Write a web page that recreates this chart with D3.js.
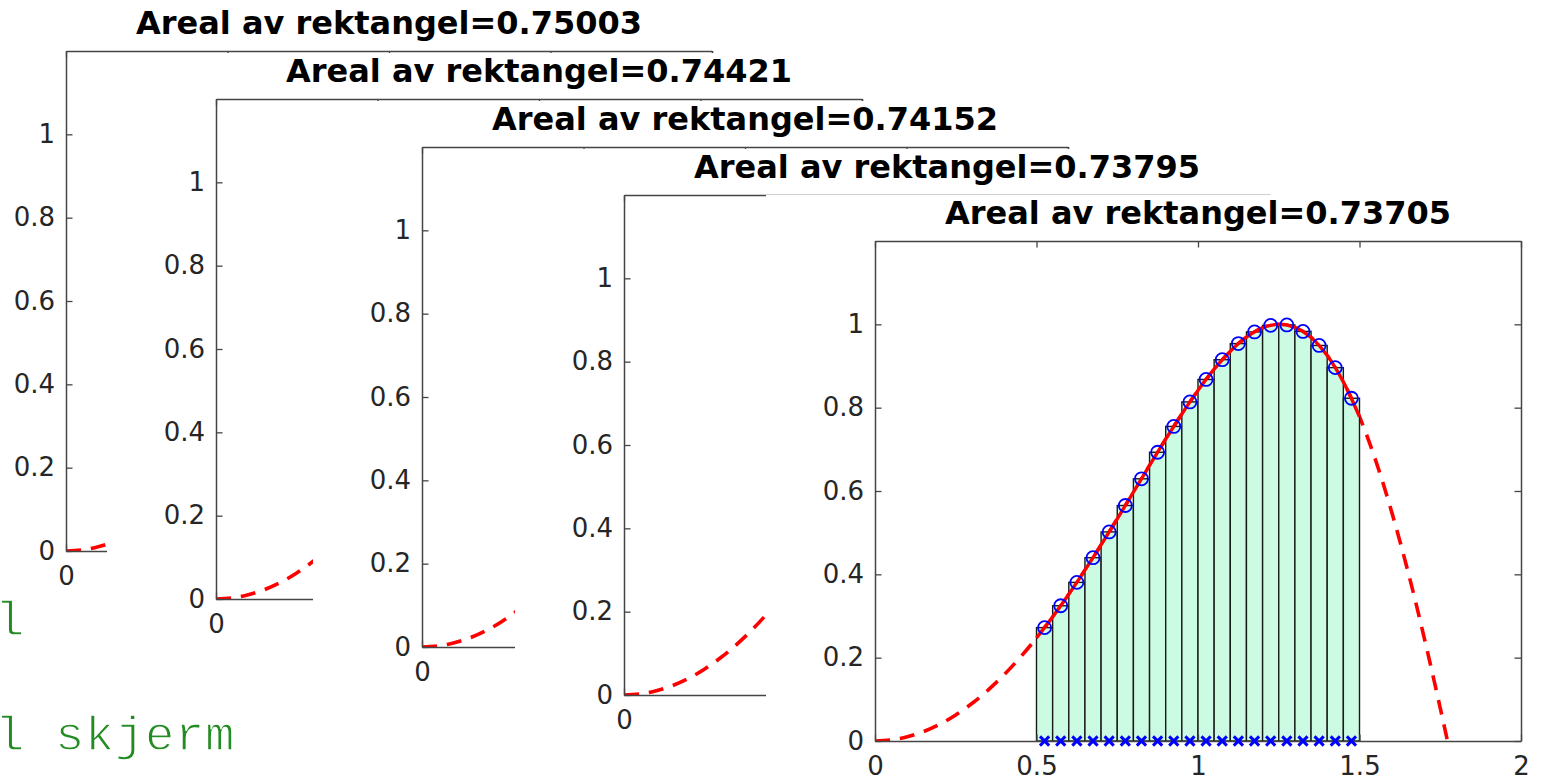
<!DOCTYPE html>
<html>
<head>
<meta charset="utf-8">
<script src="https://cdn.jsdelivr.net/npm/d3@7"></script>
<style>
  html, body { margin: 0; padding: 0; background: #fff; overflow: hidden; }
  svg { display: block; }
</style>
</head>
<body>
<svg id="chart" width="1544" height="778"></svg>
<script>
// Sampled curve y = sin(x^2) on [0, 1.8]
const curveX = [0, 0.05, 0.1, 0.15, 0.2, 0.25, 0.3, 0.35, 0.4, 0.45,
                0.5, 0.55, 0.6, 0.65, 0.7, 0.75, 0.8, 0.85, 0.9, 0.95,
                1.0, 1.05, 1.1, 1.15, 1.2, 1.25, 1.3, 1.35, 1.4, 1.45,
                1.5, 1.55, 1.6, 1.65, 1.7, 1.75, 1.8];
const curveY = [0, 0.0025, 0.0100, 0.0225, 0.0400, 0.0625, 0.0899, 0.1222, 0.1593, 0.2011,
                0.2474, 0.2979, 0.3523, 0.4101, 0.4706, 0.5333, 0.5972, 0.6613, 0.7243, 0.7849,
                0.8415, 0.8923, 0.9356, 0.9693, 0.9915, 1.0000, 0.9929, 0.9685, 0.9252, 0.8620,
                0.7781, 0.6736, 0.5487, 0.4069, 0.2489, 0.0790, -0.0982];

// Midpoint rule on [0.5, 1.5] with 20 rectangles
const rectWidth = 0.05;
const midX = [0.525, 0.575, 0.625, 0.675, 0.725, 0.775, 0.825, 0.875, 0.925, 0.975,
              1.025, 1.075, 1.125, 1.175, 1.225, 1.275, 1.325, 1.375, 1.425, 1.475];
const midY = [0.2721, 0.3246, 0.3807, 0.4400, 0.5018, 0.5652, 0.6293, 0.6930, 0.7550, 0.8138,
              0.8677, 0.9151, 0.9538, 0.9818, 0.9975, 0.9985, 0.9830, 0.9493, 0.8961, 0.8226];
const solidFrom = 0.5, solidTo = 1.5;

// Titles of the five stacked figure windows (back to front)
const areaValues = ["0.75003", "0.74421", "0.74152", "0.73795", "0.73705"];

// Axis ticks
const xTicks = [0, 0.5, 1, 1.5, 2];
const xTickLabels = ["0", "0.5", "1", "1.5", "2"];
const yTicks = [0, 0.2, 0.4, 0.6, 0.8, 1];
const yTickLabels = ["0", "0.2", "0.4", "0.6", "0.8", "1"];

// Editor text peeking out behind the windows
const editorLines = ["l", "l skjerm"];

const svg = d3.select("#chart");
const W = 646, H = 500;
const axesPos = [
  { left: 66,  top: 51 },
  { left: 216, top: 99 },
  { left: 422, top: 147 },
  { left: 624, top: 195 },
  { left: 875, top: 241 }
];

const points = curveX.map((x, i) => ({ x, y: curveY[i] }));
const bars = midX.map((x, i) => ({ x, y: midY[i] }));

// background editor text (thin white outline keeps the strokes light)
svg.append("g").selectAll("text")
  .data(editorLines)
  .join("text")
  .attr("x", -5)
  .attr("y", (d, i) => i === 0 ? 635 : 750)
  .attr("font-family", "'Courier New', Courier, 'Nimbus Mono PS', 'Nimbus Mono L', FreeMono, 'Liberation Mono', monospace")
  .attr("font-size", 49)
  .attr("letter-spacing", 0.6)
  .attr("fill", "#228b22")
  .attr("stroke", "#ffffff")
  .attr("stroke-width", 1.3)
  .text(d => d);

const TICK = 6.5;
const axisColor = "#454545";

axesPos.forEach((p, k) => {
  const front = k === axesPos.length - 1;
  const x = d3.scaleLinear().domain([0, 2]).range([p.left, p.left + W]);
  const y = d3.scaleLinear().domain([0, 1.2]).range([p.top + H, p.top]);

  const fig = svg.append("g");

  // figure window (covers the ones behind it)
  fig.append("rect")
    .attr("x", p.left - 109)
    .attr("y", p.top - 46)
    .attr("width", 2200)
    .attr("height", H + 46 + 45)
    .attr("fill", "#ffffff");

  const clipId = "clip" + k;
  fig.append("clipPath").attr("id", clipId)
    .append("rect")
    .attr("x", p.left).attr("y", p.top)
    .attr("width", W).attr("height", H);

  const plot = fig.append("g").attr("clip-path", `url(#${clipId})`);

  const line = d3.line()
    .x(d => x(d.x))
    .y(d => y(d.y))
    .curve(d3.curveCatmullRom.alpha(0.5));

  // dashed curve over the whole range
  plot.append("path")
    .datum(points)
    .attr("d", line)
    .attr("fill", "none")
    .attr("stroke", "#ff0000")
    .attr("stroke-width", 3.6)
    .attr("stroke-dasharray", "15,10");

  if (front) {
    // rectangles
    plot.append("g").selectAll("rect")
      .data(bars)
      .join("rect")
      .attr("x", d => x(d.x - rectWidth / 2))
      .attr("y", d => y(d.y))
      .attr("width", d => x(d.x + rectWidth / 2) - x(d.x - rectWidth / 2))
      .attr("height", d => y(0) - y(d.y))
      .attr("fill", "#ccfbe4")
      .attr("stroke", "#1a1a1a")
      .attr("stroke-width", 1.4);

    // solid curve on the integration interval
    plot.append("path")
      .datum(points.filter(d => d.x >= solidFrom - 1e-9 && d.x <= solidTo + 1e-9))
      .attr("d", line)
      .attr("fill", "none")
      .attr("stroke", "#ff0000")
      .attr("stroke-width", 3.4);
  }

  // box axes with inward ticks
  const styleAxis = g => {
    g.select(".domain").attr("stroke", axisColor).attr("stroke-width", 1.5);
    g.selectAll(".tick line").attr("stroke", axisColor).attr("stroke-width", 1.3);
    g.selectAll(".tick text")
      .attr("fill", "#262626")
      .attr("font-family", "'DejaVu Sans', sans-serif")
      .attr("font-size", 26);
  };

  fig.append("g")
    .attr("transform", `translate(0,${p.top + H})`)
    .call(d3.axisBottom(x).tickValues(xTicks)
      .tickFormat((d, i) => xTickLabels[i])
      .tickSize(-TICK).tickSizeOuter(0))
    .call(styleAxis)
    .call(g => g.selectAll(".tick text").attr("y", 34).attr("dy", null));

  fig.append("g")
    .attr("transform", `translate(0,${p.top})`)
    .call(d3.axisTop(x).tickValues(xTicks).tickFormat("")
      .tickSize(-TICK).tickSizeOuter(0))
    .call(styleAxis);

  fig.append("g")
    .attr("transform", `translate(${p.left},0)`)
    .call(d3.axisLeft(y).tickValues(yTicks)
      .tickFormat((d, i) => yTickLabels[i])
      .tickSize(-TICK).tickSizeOuter(0).tickPadding(11))
    .call(styleAxis);

  fig.append("g")
    .attr("transform", `translate(${p.left + W},0)`)
    .call(d3.axisRight(y).tickValues(yTicks).tickFormat("")
      .tickSize(-TICK).tickSizeOuter(0))
    .call(styleAxis);

  if (front) {
    // midpoints on the curve
    fig.append("g").selectAll("circle")
      .data(bars)
      .join("circle")
      .attr("cx", d => x(d.x))
      .attr("cy", d => y(d.y))
      .attr("r", 6.5)
      .attr("fill", "none")
      .attr("stroke", "#0000ff")
      .attr("stroke-width", 1.8);

    // midpoints on the x-axis
    const s = 4.6;
    fig.append("g").selectAll("path")
      .data(bars)
      .join("path")
      .attr("d", d => {
        const cx = x(d.x), cy = y(0);
        return `M${cx - s},${cy - s}L${cx + s},${cy + s}M${cx - s},${cy + s}L${cx + s},${cy - s}`;
      })
      .attr("stroke", "#0000ff")
      .attr("stroke-width", 3)
      .attr("fill", "none");
  }

  // title
  fig.append("text")
    .attr("x", p.left + W / 2)
    .attr("y", p.top - 17)
    .attr("text-anchor", "middle")
    .attr("font-family", "'DejaVu Sans', sans-serif")
    .attr("font-weight", "bold")
    .attr("font-size", 32)
    .attr("fill", "#000")
    .text(`Areal av rektangel=${areaValues[k]}`);
});
</script>
</body>
</html>
